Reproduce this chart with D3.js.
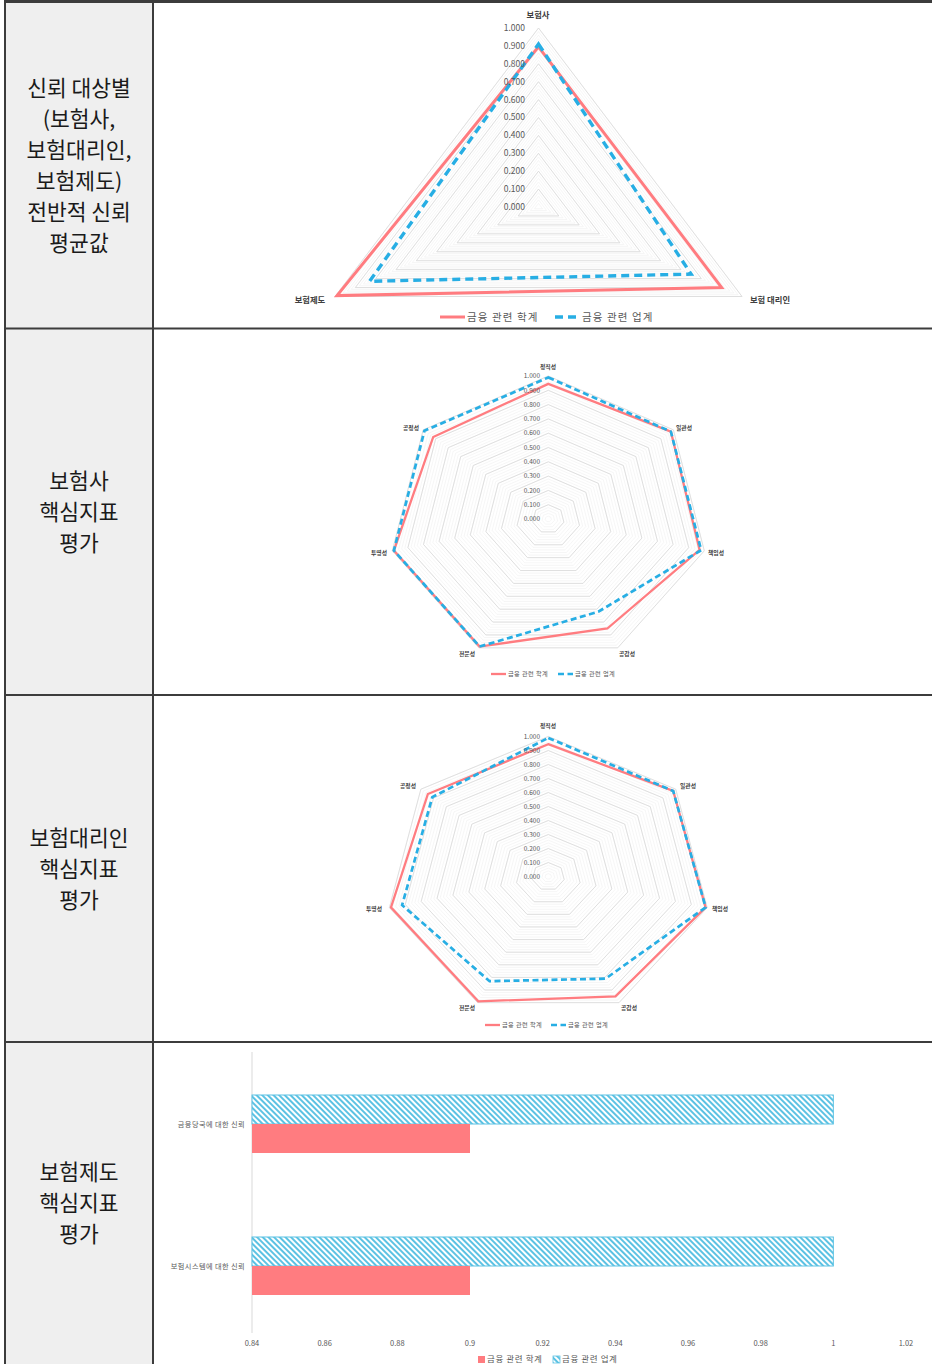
<!DOCTYPE html>
<html>
<head>
<meta charset="utf-8">
<script src="https://cdn.jsdelivr.net/npm/d3@7"></script>
<style>
  html, body { margin: 0; padding: 0; background: #fff; }
  svg { display: block; }
  text { font-family: "Noto Sans CJK KR", "Noto Sans", sans-serif; }
</style>
</head>
<body>
<svg id="chart" width="932" height="1364"></svg>
<script>
// ---- data ----
const seriesNames = ["금융 관련 학계", "금융 관련 업계"];

const overallCats = ["보험사", "보험 대리인", "보험제도"];
const overallAcademia = [0.895, 0.90, 0.99];
const overallIndustry = [0.91, 0.75, 0.83];

const coreCats = ["정직성", "일관성", "책임성", "공감성", "전문성", "투명성", "공정성"];
const insurerAcademia = [0.945, 0.98, 0.97, 0.85, 0.99, 0.99, 0.92];
const insurerIndustry = [0.99, 0.98, 0.98, 0.72, 0.99, 0.99, 0.99];
const agentAcademia = [0.945, 0.98, 0.99, 0.95, 0.99, 0.99, 0.945];
const agentIndustry = [0.99, 0.98, 0.99, 0.81, 0.83, 0.92, 0.91];

const systemCats = ["금융당국에 대한 신뢰", "보험시스템에 대한 신뢰"];
const systemAcademia = [0.9, 0.9];
const systemIndustry = [1, 1];
const barTicks = [0.84, 0.86, 0.88, 0.9, 0.92, 0.94, 0.96, 0.98, 1, 1.02];

const radarTicks = d3.range(0, 1.0001, 0.1);
const rowTitles = [
  ["신뢰 대상별", "(보험사,", "보험대리인,", "보험제도)", "전반적 신뢰", "평균값"],
  ["보험사", "핵심지표", "평가"],
  ["보험대리인", "핵심지표", "평가"],
  ["보험제도", "핵심지표", "평가"]
];

// ---- styles ----
const RED = "#ff7c80";
const BLUE = "#27aee4";
const TXT = "#595959";

const svg = d3.select("#chart");

// hatch pattern for the industry bars
const defs = svg.append("defs");
const pat = defs.append("pattern")
  .attr("id", "hatch").attr("patternUnits", "userSpaceOnUse")
  .attr("width", 4).attr("height", 4)
  .attr("patternTransform", "rotate(45)");
pat.append("rect").attr("width", 4).attr("height", 4).attr("fill", "#fff");
pat.append("rect").attr("width", 4).attr("height", 2).attr("fill", "#5cc2e3");

// ---- table frame ----
const rowEdges = [2, 328.5, 695, 1042, 1364];
svg.append("rect").attr("x", 5).attr("y", 2).attr("width", 148).attr("height", 1362).attr("fill", "#efefef");

rowTitles.forEach((lines, i) => {
  const mid = (rowEdges[i] + rowEdges[i + 1]) / 2;
  const lh = 31;
  const t = svg.append("text")
    .attr("x", 79).attr("text-anchor", "middle")
    .attr("font-size", 21.5).attr("fill", "#1a1a1a");
  lines.forEach((ln, j) => {
    t.append("tspan").attr("x", 79)
      .attr("y", mid + (j - (lines.length - 1) / 2) * lh + 8)
      .text(ln);
  });
});

// ---- radar chart ----
function radar(opt) {
  const g = svg.append("g");
  const n = opt.cats.length;
  const r = d3.scaleLinear().domain([0, 1]).range([0, 1]);
  const ang = d3.scaleLinear().domain([0, n]).range([0, 2 * Math.PI]);
  const px = (i, v) => opt.cx + opt.rx * r(v) * Math.sin(ang(i));
  const py = (i, v) => opt.cy - opt.ry * r(v) * Math.cos(ang(i));
  const poly = d3.line().curve(d3.curveLinearClosed);

  // minor grid
  d3.range(0.02, 1.0001, 0.02).forEach(v => {
    g.append("path")
      .attr("d", poly(d3.range(n).map(i => [px(i, v), py(i, v)])))
      .attr("fill", "none").attr("stroke", "#f0f0f0").attr("stroke-width", 0.6);
  });
  // major grid
  radarTicks.forEach(v => {
    g.append("path")
      .attr("d", poly(d3.range(n).map(i => [px(i, v), py(i, v)])))
      .attr("fill", "none").attr("stroke", "#d9d9d9").attr("stroke-width", 0.8);
  });

  // series
  const drawSeries = (vals, color, dash, width) => {
    g.append("path")
      .attr("d", poly(vals.map((v, i) => [px(i, v), py(i, v)])))
      .attr("fill", "none").attr("stroke", color)
      .attr("stroke-width", width)
      .attr("stroke-dasharray", dash)
      .attr("stroke-linejoin", "miter");
  };
  drawSeries(opt.a, RED, null, opt.lw);
  drawSeries(opt.b, BLUE, opt.dash, opt.lw + 0.4);

  // value ticks
  radarTicks.forEach(v => {
    g.append("text")
      .attr("x", opt.tickX).attr("y", py(0, v))
      .attr("dy", "0.35em").attr("text-anchor", "end")
      .attr("font-size", opt.tickFs).attr("fill", TXT)
      .text(d3.format(".3f")(v));
  });

  // category labels
  opt.cats.forEach((c, i) => {
    const p = opt.labelPos[i];
    g.append("text")
      .attr("x", p[0]).attr("y", p[1]).attr("dy", "0.35em")
      .attr("text-anchor", "middle")
      .attr("font-size", opt.catFs).attr("font-weight", 700).attr("fill", "#404040")
      .text(c);
  });

  // legend
  const L = opt.legend;
  g.append("line").attr("x1", L.x1).attr("x2", L.x1 + L.sw).attr("y1", L.y).attr("y2", L.y)
    .attr("stroke", RED).attr("stroke-width", opt.lw);
  g.append("text").attr("x", L.x1 + L.sw + 2).attr("y", L.y).attr("dy", "0.35em")
    .attr("font-size", L.fs).attr("letter-spacing", L.ls).attr("fill", TXT).text(seriesNames[0]);
  g.append("line").attr("x1", L.x2).attr("x2", L.x2 + L.sw).attr("y1", L.y).attr("y2", L.y)
    .attr("stroke", BLUE).attr("stroke-width", opt.lw + 0.4).attr("stroke-dasharray", opt.dash);
  g.append("text").attr("x", L.x2 + L.sw + 2).attr("y", L.y).attr("dy", "0.35em")
    .attr("font-size", L.fs).attr("letter-spacing", L.ls).attr("fill", TXT).text(seriesNames[1]);
}

radar({
  cats: overallCats, a: overallAcademia, b: overallIndustry,
  cx: 538.5, cy: 207, rx: 235, ry: 179,
  lw: 3, dash: "8,5", tickX: 525, tickFs: 8.5, catFs: 8.3,
  labelPos: [[538, 15], [770, 300], [310, 300]],
  legend: { x1: 440, x2: 555, sw: 25, y: 317, fs: 10.5, ls: 1.1 }
});

radar({
  cats: coreCats, a: insurerAcademia, b: insurerIndustry,
  cx: 548.3, cy: 519, rx: 160, ry: 143,
  lw: 2.3, dash: "6,3.5", tickX: 540, tickFs: 6.5, catFs: 5.8,
  labelPos: [[548, 367], [684, 428], [716, 553], [627, 654], [467, 654], [379, 553], [411, 428]],
  legend: { x1: 491, x2: 558, sw: 15, y: 674, fs: 6.2, ls: 0.4 }
});

radar({
  cats: coreCats, a: agentAcademia, b: agentIndustry,
  cx: 548.3, cy: 876.5, rx: 163, ry: 140,
  lw: 2.3, dash: "6,3.5", tickX: 540, tickFs: 6.5, catFs: 5.8,
  labelPos: [[548, 726], [688, 786], [720, 909], [629, 1008], [467, 1008], [374, 909], [408, 786]],
  legend: { x1: 485, x2: 551, sw: 15, y: 1025, fs: 6.2, ls: 0.4 }
});

// ---- bar chart ----
(function () {
  const g = svg.append("g");
  const x = d3.scaleLinear().domain([0.84, 1.02]).range([252, 906]);
  const y = d3.scaleBand().domain(systemCats).range([1053, 1337])
    .paddingInner(0.5915).paddingOuter(0.2958);
  const ys = d3.scaleBand().domain(["ind", "acad"]).range([0, y.bandwidth()]);

  g.append("line").attr("x1", x(0.84)).attr("x2", x(0.84)).attr("y1", 1052).attr("y2", 1333)
    .attr("stroke", "#d9d9d9").attr("stroke-width", 1);

  systemCats.forEach((c, i) => {
    g.append("rect").attr("x", x(0.84)).attr("y", y(c) + ys("ind"))
      .attr("width", x(systemIndustry[i]) - x(0.84)).attr("height", ys.bandwidth())
      .attr("fill", "url(#hatch)").attr("stroke", "#5cc2e3").attr("stroke-width", 1);
    g.append("rect").attr("x", x(0.84)).attr("y", y(c) + ys("acad"))
      .attr("width", x(systemAcademia[i]) - x(0.84)).attr("height", ys.bandwidth())
      .attr("fill", RED);
    g.append("text").attr("x", 245).attr("y", y(c) + y.bandwidth() / 2).attr("dy", "0.35em")
      .attr("text-anchor", "end").attr("font-size", 7.2).attr("letter-spacing", 0.4)
      .attr("fill", TXT).text(c);
  });

  barTicks.forEach(t => {
    g.append("text").attr("x", x(t)).attr("y", 1343).attr("dy", "0.35em")
      .attr("text-anchor", "middle").attr("font-size", 7.5).attr("fill", TXT)
      .text(d3.format("")(+t.toFixed(2)));
  });

  // legend
  g.append("rect").attr("x", 478).attr("y", 1356).attr("width", 7).attr("height", 7).attr("fill", RED);
  g.append("text").attr("x", 487).attr("y", 1359.5).attr("dy", "0.35em")
    .attr("font-size", 8.5).attr("letter-spacing", 0.6).attr("fill", TXT).text(seriesNames[0]);
  g.append("rect").attr("x", 553).attr("y", 1356).attr("width", 7).attr("height", 7)
    .attr("fill", "url(#hatch)").attr("stroke", "#5cc2e3").attr("stroke-width", 0.8);
  g.append("text").attr("x", 562).attr("y", 1359.5).attr("dy", "0.35em")
    .attr("font-size", 8.5).attr("letter-spacing", 0.6).attr("fill", TXT).text(seriesNames[1]);
})();

// ---- table lines on top ----
const frame = svg.append("g").attr("stroke", "#3c3c3c").attr("stroke-width", 2);
frame.append("line").attr("x1", 5).attr("x2", 932).attr("y1", 1.5).attr("y2", 1.5).attr("stroke-width", 3);
[328.5, 695, 1042].forEach(yy => {
  frame.append("line").attr("x1", 5).attr("x2", 932).attr("y1", yy).attr("y2", yy);
});
frame.append("line").attr("x1", 5).attr("x2", 5).attr("y1", 0).attr("y2", 1364);
frame.append("line").attr("x1", 153).attr("x2", 153).attr("y1", 0).attr("y2", 1364);
</script>
</body>
</html>
